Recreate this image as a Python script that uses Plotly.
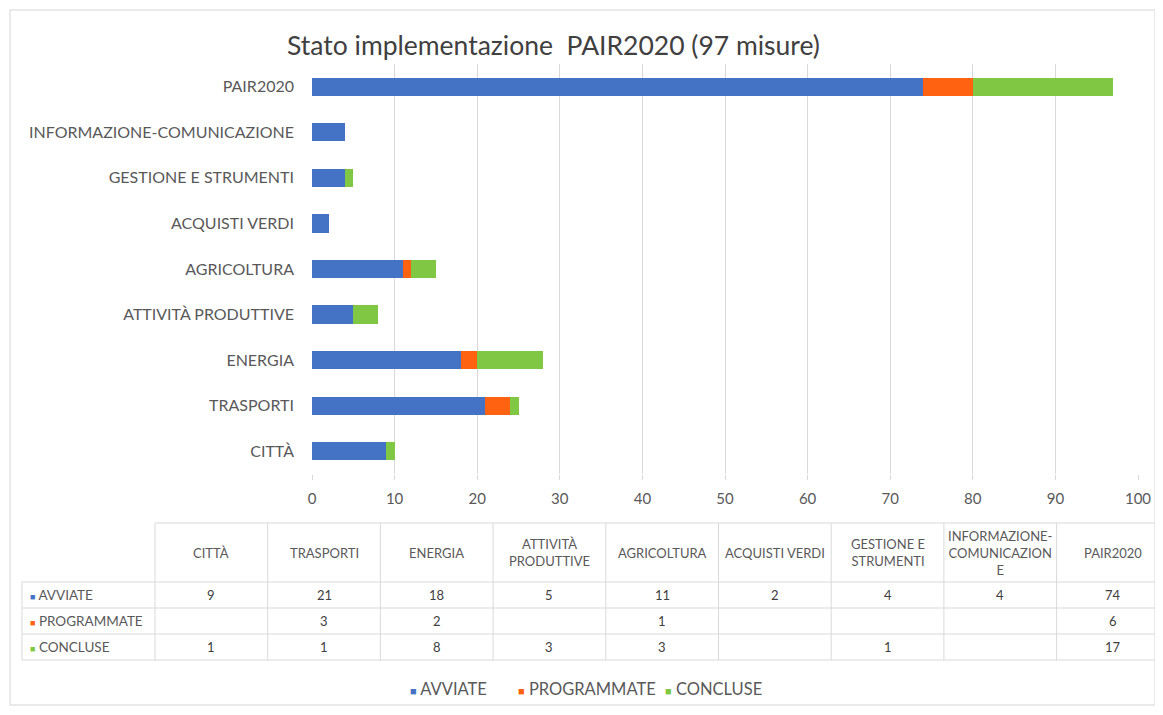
import plotly.graph_objects as go

categories = ["CITTÀ", "TRASPORTI", "ENERGIA", "ATTIVITÀ PRODUTTIVE", "AGRICOLTURA",
              "ACQUISTI VERDI", "GESTIONE E STRUMENTI", "INFORMAZIONE-COMUNICAZIONE", "PAIR2020"]
header_labels = ["CITTÀ", "TRASPORTI", "ENERGIA", "ATTIVITÀ<br>PRODUTTIVE", "AGRICOLTURA",
                 "ACQUISTI VERDI", "GESTIONE E<br>STRUMENTI", "INFORMAZIONE-<br>COMUNICAZION<br>E", "PAIR2020"]
avviate = [9, 21, 18, 5, 11, 2, 4, 4, 74]
programmate = [0, 3, 2, 0, 1, 0, 0, 0, 6]
concluse = [1, 1, 8, 3, 3, 0, 1, 0, 17]
series_names = ["AVVIATE", "PROGRAMMATE", "CONCLUSE"]
series_colors = ["#4472C4", "#FF6210", "#80C844"]
x_ticks = [0, 10, 20, 30, 40, 50, 60, 70, 80, 90, 100]
title_text = "Stato implementazione  PAIR2020 (97 misure)"

FONT = "Lato"
TXT = "#595959"
# the page puts the figure at (8, 8); coordinates below are screen pixels
OFF = 8
W, H = 1163 - OFF, 715 - OFF
PLOT_L, PLOT_R, PLOT_T, PLOT_B = 312, 1138, 64, 474
ML, MR, MT, MB = PLOT_L - OFF, (W + OFF) - PLOT_R, PLOT_T - OFF, (H + OFF) - PLOT_B
PW, PH = PLOT_R - PLOT_L, PLOT_B - PLOT_T


def px(x):
    return (x - PLOT_L) / PW


def py(y):
    return (PLOT_B - y) / PH


fig = go.Figure()
for name, vals, col in zip(series_names, [avviate, programmate, concluse], series_colors):
    fig.add_trace(go.Bar(y=categories, x=vals, name=name, orientation="h",
                         marker=dict(color=col, line=dict(width=0)), showlegend=False))

shapes = []
annotations = []
line_col = "#D9D9D9"

# outer border
shapes.append(dict(type="rect", xref="paper", yref="paper", x0=px(10), x1=px(1155), y0=py(10), y1=py(705),
                   line=dict(color="#E3E3E3", width=1.5), layer="below"))

# table geometry
col_left = 155
col_w = 112.7
tab_top, head_bot = 523, 582
row_h = 26
row_left = 22
n_cols = len(categories)
tab_right = 1170
row_bounds = [head_bot + i * row_h for i in range(4)]

shapes.append(dict(type="line", xref="paper", yref="paper", x0=px(col_left), x1=px(tab_right),
                   y0=py(tab_top), y1=py(tab_top), line=dict(color=line_col, width=1)))
for yb in row_bounds:
    shapes.append(dict(type="line", xref="paper", yref="paper", x0=px(row_left), x1=px(tab_right),
                       y0=py(yb), y1=py(yb), line=dict(color=line_col, width=1)))
for i in range(n_cols):
    xl = col_left + i * col_w
    shapes.append(dict(type="line", xref="paper", yref="paper", x0=px(xl), x1=px(xl),
                       y0=py(tab_top), y1=py(row_bounds[-1]), line=dict(color=line_col, width=1)))
shapes.append(dict(type="line", xref="paper", yref="paper", x0=px(row_left), x1=px(row_left),
                   y0=py(head_bot), y1=py(row_bounds[-1]), line=dict(color=line_col, width=1)))

# header text
for i, lab in enumerate(header_labels):
    xc = col_left + (i + 0.5) * col_w
    annotations.append(dict(x=px(xc), y=py((tab_top + head_bot) / 2), xref="paper", yref="paper",
                            text=lab, showarrow=False, xanchor="center", yanchor="middle",
                            font=dict(family=FONT, size=13, color=TXT)))

# rows
for r, (name, vals, col) in enumerate(zip(series_names, [avviate, programmate, concluse], series_colors)):
    yc = row_bounds[r] + row_h / 2
    annotations.append(dict(x=px(28), y=py(yc), xref="paper", yref="paper",
                            text=f"<span style='color:{col};font-size:9px'>■</span> {name}", showarrow=False,
                            xanchor="left", yanchor="middle",
                            font=dict(family=FONT, size=13.5, color=TXT)))
    for i, v in enumerate(vals):
        if v:
            xc = col_left + (i + 0.5) * col_w
            annotations.append(dict(x=px(xc), y=py(yc), xref="paper", yref="paper",
                                    text=str(v), showarrow=False, xanchor="center", yanchor="middle",
                                    font=dict(family=FONT, size=13, color="#404040")))

# legend (manual, small square markers as in the original)
legend_x = [408, 516, 663]
for name, col, lx in zip(series_names, series_colors, legend_x):
    annotations.append(dict(x=px(lx), y=py(689), xref="paper", yref="paper",
                            text=f"<span style='color:{col};font-size:11px'>■</span> {name}",
                            showarrow=False, xanchor="left", yanchor="middle",
                            font=dict(family=FONT, size=16.5, color=TXT)))

# title
annotations.append(dict(x=px(553), y=py(45), xref="paper", yref="paper", text=title_text,
                        showarrow=False, xanchor="center", yanchor="middle",
                        font=dict(family=FONT, size=26.5, color="#404040")))

fig.update_layout(
    width=W, height=H,
    margin=dict(l=ML, r=MR, t=MT, b=MB, autoexpand=False),
    paper_bgcolor="white", plot_bgcolor="white",
    barmode="stack", bargap=0.6,
    font=dict(family=FONT, color=TXT),
    showlegend=False,
    shapes=shapes, annotations=annotations,
)
fig.update_xaxes(range=[0, 100], tickvals=x_ticks, showgrid=True, gridcolor=line_col, gridwidth=1,
                 zeroline=False, ticks="outside", ticklen=5, tickcolor=line_col,
                 tickfont=dict(family=FONT, size=15, color=TXT), ticklabelstandoff=6,
                 fixedrange=True)
fig.update_yaxes(type="category", categoryorder="array", categoryarray=categories, showgrid=False,
                 tickfont=dict(family=FONT, size=16, color=TXT), ticks="", ticklabelstandoff=17,
                 showline=False, fixedrange=True)

fig.write_html("out.html")
